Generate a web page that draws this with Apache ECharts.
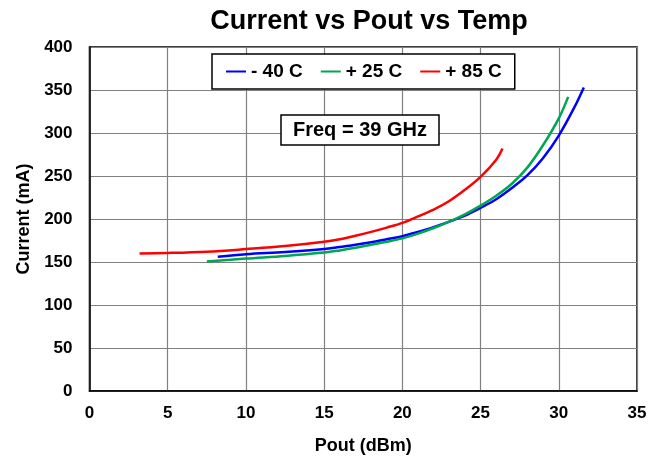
<!DOCTYPE html>
<html>
<head>
<meta charset="utf-8">
<script src="https://cdn.jsdelivr.net/npm/echarts@6/dist/echarts.min.js"></script>
<style>
  html, body { margin: 0; padding: 0; background: #fff; }
  #main { width: 661px; height: 460px; }
</style>
</head>
<body>
<div id="main"></div>
<script>
// Pout (dBm), current (mA)
const seriesNames = ['- 40 C', '+ 25 C', '+ 85 C']
const coldPout = [8.2, 10, 12.5, 15, 16, 17, 18, 19, 20, 21, 22, 23, 24, 25, 26, 27, 28, 29, 30, 31, 31.6]
const coldCurrent = [156, 159, 161.5, 165, 167.5, 170, 173, 176.5, 180, 185, 190.5, 197, 204, 213, 223, 236, 251, 271, 297, 330, 353]
const roomPout = [7.5, 10, 12.5, 15, 16, 17, 18, 19, 20, 21, 22, 23, 24, 25, 26, 27, 28, 29, 30, 30.6]
const roomCurrent = [150.5, 154, 157, 161, 163.5, 166.5, 170, 173.5, 177.5, 183, 189.5, 197, 205.5, 215.5, 227, 241, 260, 286, 317, 342]
const hotPout = [3.2, 5, 7.5, 10, 12.5, 15, 16, 17, 18, 19, 20, 21, 22, 23, 24, 25, 26, 26.4]
const hotCurrent = [160, 160.5, 162, 165, 168.5, 173.5, 176.5, 180.5, 185, 190, 195.5, 203, 211, 221, 234, 249, 269, 282]
const colors = ['#0000ff', '#00a651', '#ff0000']

const pairs = (xs, ys) => xs.map((x, i) => [x, ys[i]])
const font = 'Liberation Sans, Arial, sans-serif'
const bold = { fontFamily: font, fontWeight: 'bold', color: '#000' }

function line(i, xs, ys) {
  return {
    name: seriesNames[i], type: 'line', smooth: 0.35, showSymbol: false,
    data: pairs(xs, ys),
    lineStyle: { color: colors[i], width: 2.5 }, itemStyle: { color: colors[i] }
  }
}

const chart = echarts.init(document.getElementById('main'))
const option = {
  animation: false,
  title: [
    { text: 'Current vs Pout vs Temp', left: 364, textAlign: 'center', top: 3, textStyle: { ...bold, fontSize: 27 } },
    {
      text: 'Freq = 39 GHz', left: 281, top: 115,
      padding: [5, 12, 5, 12], borderWidth: 1.5, borderColor: '#000', backgroundColor: '#fff',
      textStyle: { ...bold, fontSize: 20 }
    }
  ],
  legend: {
    data: seriesNames, left: 212, top: 54,
    padding: [8, 13, 8, 14], itemGap: 18, itemWidth: 20, itemHeight: 2, icon: 'rect',
    borderWidth: 1.5, borderColor: '#000', backgroundColor: '#fff',
    textStyle: { ...bold, fontSize: 19 }
  },
  grid: {
    left: 89.5, right: 24, top: 47, bottom: 69, outerBoundsMode: 'none',
    show: true, borderColor: '#000', borderWidth: 1.5
  },
  xAxis: {
    type: 'value', min: 0, max: 35, interval: 5,
    name: 'Pout (dBm)', nameLocation: 'middle', nameGap: 46,
    nameTextStyle: { ...bold, fontSize: 18 },
    axisLine: { lineStyle: { color: '#000', width: 1.5 } },
    axisTick: { show: false },
    axisLabel: { ...bold, fontSize: 17, margin: 14 },
    splitLine: { lineStyle: { color: '#808080', width: 1.2 } }
  },
  yAxis: {
    type: 'value', min: 0, max: 400, interval: 50,
    name: 'Current (mA)', nameLocation: 'middle', nameGap: 55,
    nameTextStyle: { ...bold, fontSize: 18 },
    axisLine: { show: true, lineStyle: { color: '#000', width: 1.5 } },
    axisTick: { show: false },
    axisLabel: { ...bold, fontSize: 17, margin: 17 },
    splitLine: { lineStyle: { color: '#808080', width: 1.2 } }
  },
  series: [
    line(0, coldPout, coldCurrent),
    line(1, roomPout, roomCurrent),
    line(2, hotPout, hotCurrent)
  ]
}
chart.setOption(option)
</script>
</body>
</html>
